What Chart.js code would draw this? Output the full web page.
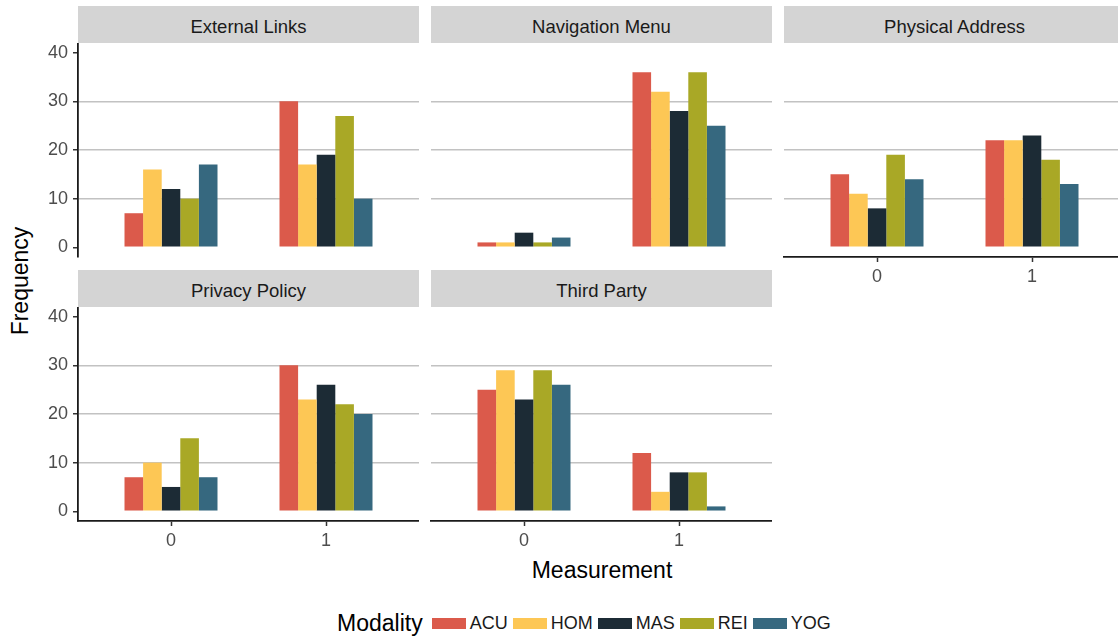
<!DOCTYPE html>
<html>
<head>
<meta charset="utf-8">
<script src="https://cdn.jsdelivr.net/npm/chart.js@4.4.1/dist/chart.umd.min.js"></script>
<style>
  html, body { margin: 0; padding: 0; background: #fff; overflow: hidden; }
  #page { position: relative; width: 1118px; height: 639px; font-family: "Liberation Sans", Arial, sans-serif; }
  #page canvas { position: absolute; }
  .strip { position: absolute; background: #d4d4d4; color: #1a1a1a; font-size: 18.5px; text-align: center; }
  .title { position: absolute; color: #000; font-size: 23px; white-space: nowrap; }
  #legend { position: absolute; left: 337px; top: 609px; height: 28px; display: flex; align-items: center; color: #1a1a1a; }
  #legend .lt { font-size: 23px; color: #000; margin-right: 9px; }
  #legend .sw { width: 34px; height: 11px; margin-right: 4px; }
  #legend .lb { font-size: 18px; margin-right: 5px; }
</style>
</head>
<body>
<div id="page">
  <div class="title" id="ytitle">Frequency</div>
  <div class="title" id="xtitle">Measurement</div>
  <div id="legend"></div>
</div>
<script>
/* ---- data ---- */
const MODALITIES = ["ACU", "HOM", "MAS", "REI", "YOG"];
const COLORS = ["#db5a4b", "#fdc755", "#1c2b35", "#a9a826", "#36687f"];
const MEASUREMENTS = [0, 1];
const Y_TICKS = [0, 10, 20, 30, 40];
const PANELS = ["External Links", "Navigation Menu", "Physical Address", "Privacy Policy", "Third Party"];

// frequency for ACU, HOM, MAS, REI, YOG at measurement 0 / 1
const EXTERNAL_LINKS_0 = [7, 16, 12, 10, 17];
const EXTERNAL_LINKS_1 = [30, 17, 19, 27, 10];
const NAVIGATION_MENU_0 = [1, 1, 3, 1, 2];
const NAVIGATION_MENU_1 = [36, 32, 28, 36, 25];
const PHYSICAL_ADDRESS_0 = [15, 11, 8, 19, 14];
const PHYSICAL_ADDRESS_1 = [22, 22, 23, 18, 13];
const PRIVACY_POLICY_0 = [7, 10, 5, 15, 7];
const PRIVACY_POLICY_1 = [30, 23, 26, 22, 20];
const THIRD_PARTY_0 = [25, 29, 23, 29, 26];
const THIRD_PARTY_1 = [12, 4, 8, 8, 1];

const PANEL_VALUES = [
  [EXTERNAL_LINKS_0, EXTERNAL_LINKS_1],
  [NAVIGATION_MENU_0, NAVIGATION_MENU_1],
  [PHYSICAL_ADDRESS_0, PHYSICAL_ADDRESS_1],
  [PRIVACY_POLICY_0, PRIVACY_POLICY_1],
  [THIRD_PARTY_0, THIRD_PARTY_1],
];

/* ---- facet layout ---- */
const COL_LEFT = [78, 431, 784];
const STRIP_TOP = [6, 270];
const STRIP_H = 37;
const PANEL_W = 341;
const PLOT_H = 214;
const Y_AXIS_W = 78;
const X_AXIS_H = 45;
// [col, row, show y axis, show x axis]
const GRID = [[0, 0, true, false], [1, 0, false, false], [2, 0, false, true], [0, 1, true, true], [1, 1, false, true]];

const page = document.getElementById("page");
const tickFont = { family: "'Liberation Sans', Arial, sans-serif", size: 18 };

PANELS.forEach((name, p) => {
  const [col, row, showY, showX] = GRID[p];
  const left = COL_LEFT[col];
  const top = STRIP_TOP[row];

  const strip = document.createElement("div");
  strip.className = "strip";
  strip.textContent = name;
  Object.assign(strip.style, { left: left + "px", top: top + "px", width: PANEL_W + "px", height: STRIP_H + "px", lineHeight: (STRIP_H + 5) + "px" });

  const canvas = document.createElement("canvas");
  canvas.width = Y_AXIS_W + PANEL_W;
  canvas.height = PLOT_H + X_AXIS_H;
  canvas.style.left = (left - Y_AXIS_W) + "px";
  canvas.style.top = (top + STRIP_H) + "px";
  page.appendChild(canvas);
  page.appendChild(strip);

  const datasets = MODALITIES.map((m, i) => ({
    label: m,
    data: MEASUREMENTS.map((x, j) => ({ x, y: PANEL_VALUES[p][j][i] })),
    backgroundColor: COLORS[i],
    borderWidth: 0,
    categoryPercentage: 0.6,
    barPercentage: 1,
  }));

  new Chart(canvas, {
    type: "bar",
    data: { datasets },
    options: {
      responsive: false,
      animation: false,
      layout: { padding: 0 },
      plugins: { legend: { display: false }, tooltip: { enabled: false } },
      scales: {
        x: {
          type: "linear", min: -0.6, max: 1.6, offset: false,
          afterBuildTicks: s => { s.ticks = MEASUREMENTS.map(v => ({ value: v })); },
          afterFit: s => { s.height = X_AXIS_H; s.paddingLeft = 0; s.paddingRight = 0; },
          grid: { display: showX, offset: false, drawOnChartArea: false, drawTicks: showX, tickLength: 5, tickColor: "#333", tickWidth: 1.5 },
          border: { display: showX, color: "#1a1a1a", width: 1.8 },
          ticks: { display: showX, color: "#4d4d4d", font: tickFont, padding: 4, maxRotation: 0 },
        },
        y: {
          min: -2, max: 42,
          afterBuildTicks: s => { s.ticks = Y_TICKS.map(v => ({ value: v })); },
          afterFit: s => { s.width = Y_AXIS_W; s.paddingTop = 0; s.paddingBottom = 0; },
          grid: {
            color: c => (c.tick && c.tick.value > 0 && c.tick.value < 40) ? "#c2c2c2" : "rgba(0,0,0,0)",
            lineWidth: 1.5,
            drawTicks: showY, tickLength: 5, tickColor: "#333", tickWidth: 1.5,
          },
          border: { display: showY, color: "#1a1a1a", width: 1.8 },
          ticks: { display: showY, color: "#4d4d4d", font: tickFont, padding: 5 },
        },
      },
    },
  });
});

/* ---- axis titles ---- */
const yt = document.getElementById("ytitle");
Object.assign(yt.style, { left: "20px", top: "281px", transform: "translate(-50%, -50%) rotate(-90deg)" });
const xt = document.getElementById("xtitle");
Object.assign(xt.style, { left: "602px", top: "570px", transform: "translate(-50%, -50%)" });

/* ---- legend ---- */
const legend = document.getElementById("legend");
legend.innerHTML = '<span class="lt">Modality</span>' + MODALITIES.map((m, i) =>
  `<span class="sw" style="background:${COLORS[i]}"></span><span class="lb">${m}</span>`).join("");
</script>
</body>
</html>
